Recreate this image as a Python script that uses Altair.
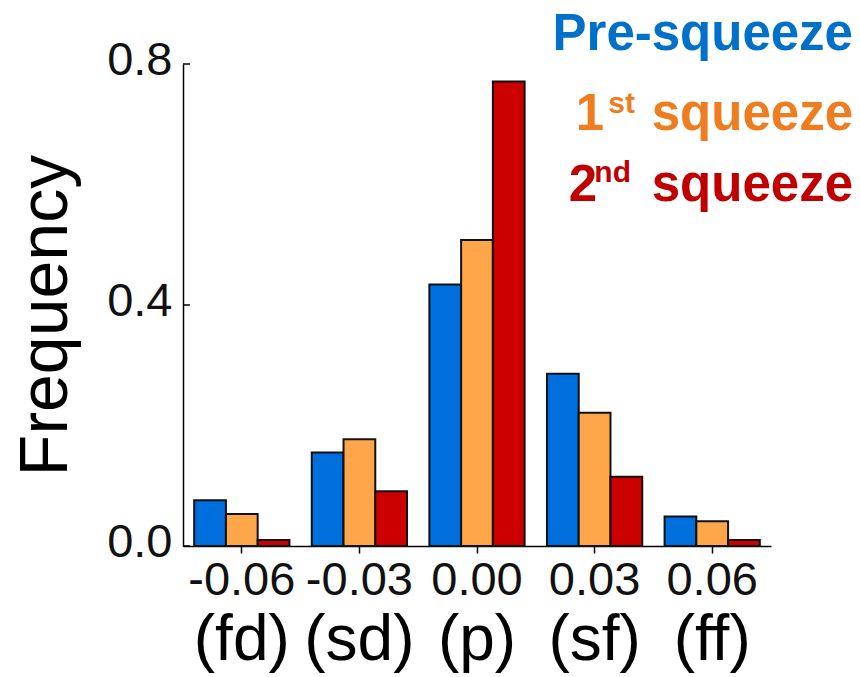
import altair as alt
import pandas as pd

# ---- data ----
categories = ["-0.06", "-0.03", "0.00", "0.03", "0.06"]
phase_labels = ["(fd)", "(sd)", "(p)", "(sf)", "(ff)"]
series = ["Pre-squeeze", "1st squeeze", "2nd squeeze"]
pre_squeeze = [0.076, 0.155, 0.434, 0.286, 0.049]
first_squeeze = [0.053, 0.177, 0.508, 0.221, 0.041]
second_squeeze = [0.010, 0.091, 0.771, 0.115, 0.010]
y_ticks = [0.0, 0.4, 0.8]

bar_colors = ["#006FDE", "#FFA54A", "#CC0000"]
text_colors = ["#0070C8", "#EE7D1F", "#C00000"]

rows = []
for name, vals in zip(series, [pre_squeeze, first_squeeze, second_squeeze]):
    for c, v in zip(categories, vals):
        rows.append({"cat": c, "series": name, "freq": v})
df = pd.DataFrame(rows)

W, H = 588, 482
FONT = "Liberation Sans"

x_enc = alt.X(
    "cat:N",
    sort=categories,
    scale=alt.Scale(domain=categories, paddingInner=0.19, paddingOuter=0.095),
    axis=alt.Axis(
        title=None, labelAngle=0, labelFont=FONT, labelFontSize=47,
        labelColor="#111111", labelPadding=4, tickSize=7, tickColor="black",
        tickWidth=1.5, domainColor="black", domainWidth=1.5, grid=False,
    ),
)

y_enc = alt.Y(
    "freq:Q",
    scale=alt.Scale(domain=[0, 0.8], nice=False),
    axis=alt.Axis(
        values=y_ticks, format=".1f", ticks=False, labelPadding=11,
        labelFont=FONT, labelFontSize=47, labelColor="#111111", labelOffset=-4,
        domainColor="black", domainWidth=1.5, grid=False,
        title="Frequency", titleFont=FONT, titleFontSize=68,
        titleFontWeight="normal", titleColor="black",
        titleAngle=270, titleAlign="center", titleBaseline="bottom",
        titleX=-103, titleY=251,
    ),
)

bars = alt.Chart(df).mark_bar(stroke="#111111", strokeWidth=2).encode(
    x=x_enc,
    xOffset=alt.XOffset("series:N", sort=series,
                        scale=alt.Scale(domain=series, paddingInner=0, paddingOuter=0)),
    y=y_enc,
    color=alt.Color("series:N", scale=alt.Scale(domain=series, range=bar_colors), legend=None),
)

ytick_rules = alt.Chart(pd.DataFrame({"v": y_ticks})).mark_rule(
    color="black", strokeWidth=1.5
).encode(y=alt.Y("v:Q"), x=alt.value(0), x2=alt.value(7))

phase_text = alt.Chart(pd.DataFrame({"cat": categories, "lab": phase_labels})).mark_text(
    font=FONT, fontSize=64, baseline="alphabetic", align="center", color="black"
).encode(
    x=x_enc,
    text="lab:N",
    y=alt.value(H + 114),
)


def label(txt, xpos, ypos, size, color):
    return alt.Chart(pd.DataFrame({"t": [txt]})).mark_text(
        font=FONT, fontSize=size, fontWeight="bold", align="right",
        baseline="alphabetic", color=color,
    ).encode(text="t:N", x=alt.value(xpos), y=alt.value(ypos))


legend = [
    label(series[0], 670, -14, 51, text_colors[0]),
    label("squeeze", 670, 66, 51, text_colors[1]),
    label("st", 452, 49, 30, text_colors[1]),
    label("1", 421, 66, 51, text_colors[1]),
    label("squeeze", 670, 137, 51, text_colors[2]),
    label("nd", 448, 118, 30, text_colors[2]),
    label("2", 414, 137, 51, text_colors[2]),
]

chart = alt.layer(bars, ytick_rules, phase_text, *legend).properties(
    width=W,
    height=H,
    autosize=alt.AutoSizeParams(type="none"),
    padding={"left": 183, "top": 64, "right": 89, "bottom": 131},
    background="white",
).configure_view(strokeWidth=0)

chart.save("out.html", embed_options={"renderer": "svg", "actions": False})
